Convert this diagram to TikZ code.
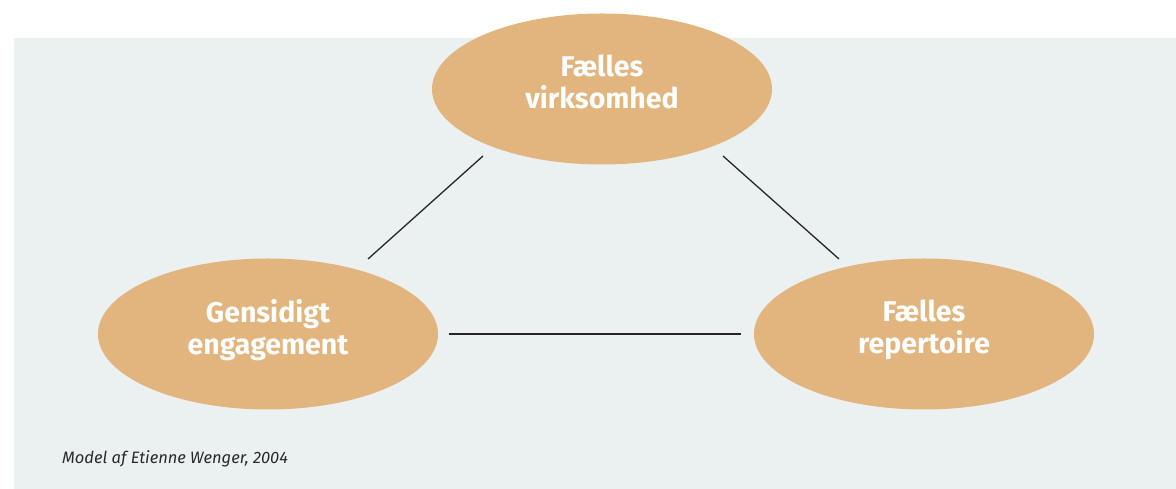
\documentclass[tikz,border=0pt]{standalone}
\usepackage{fontspec}
\setmainfont{Fira Sans}
\usetikzlibrary{shapes.geometric}
\definecolor{bgc}{HTML}{EBF1F1}
\definecolor{ell}{HTML}{E2B57E}
\definecolor{capc}{HTML}{2A2A2A}
\tikzset{
  bubble/.style={ellipse, fill=ell, draw=none, minimum width=340pt, minimum height=151pt, inner sep=0pt,
    align=center, text=white, text depth=14pt, font=\fontsize{28.5}{32}\selectfont\bfseries},
  link/.style={draw=black!85, line width=1.3pt},
}
\begin{document}
\begin{tikzpicture}[x=1pt,y=1pt]
\useasboundingbox (0,0) rectangle (1176,489);
\fill[bgc] (14,0) rectangle (1176,451);
\node[bubble] (top) at (602,400) {Fælles\\virksomhed};
\node[bubble] (left) at (268,155) {Gensidigt\\engagement};
\node[bubble] (right) at (924,155) {Fælles\\repertoire};
\coordinate (a1) at (483,333);
\coordinate (b1) at (368,230);
\coordinate (a2) at (723,333);
\coordinate (b2) at (839,230);
\coordinate (a3) at (449,155);
\coordinate (b3) at (741,155);
\draw[link] (a1) -- (b1);
\draw[link] (a2) -- (b2);
\draw[link] (a3) -- (b3);
\node[anchor=base west, inner sep=0pt, text=capc, font=\fontsize{16.5}{19}\selectfont\itshape] (cap) at (62,25) {Model af Etienne Wenger, 2004};
\end{tikzpicture}
\end{document}
